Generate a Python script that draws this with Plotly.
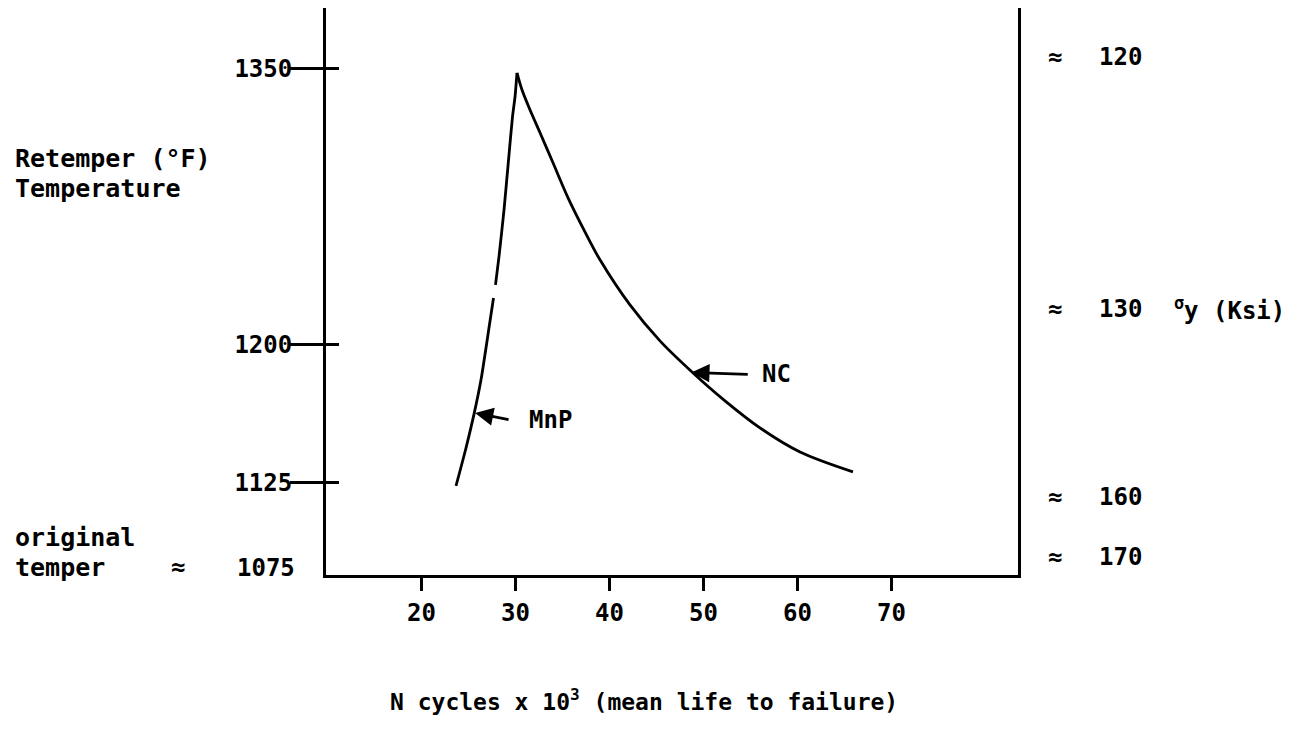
import plotly.graph_objects as go

# ---- data ----
MNP_N = [23.67, 24.68, 25.64, 26.33, 27.23, 27.66, None, 27.87, 28.24, 28.78, 29.26, 29.68, 29.95, 30.16]
MNP_T = [1123.4, 1142.9, 1163.6, 1181.0, 1210.9, 1225.5, None, 1232.6, 1247.8, 1273.4, 1300.5, 1323.9, 1334.8, 1347.8]

NC_N = [30.16, 30.69, 31.54, 32.61, 33.99, 35.59, 37.39, 38.99, 42.18, 45.37, 48.78, 52.29, 56.01, 60.27, 65.90]
NC_T = [1347.8, 1338.6, 1327.7, 1315.2, 1298.9, 1279.9, 1261.4, 1246.2, 1221.7, 1202.2, 1185.3, 1169.6, 1154.9, 1141.8, 1131.0]

X_TICKS = [20, 30, 40, 50, 60, 70]
Y_TICKS = [1125, 1200, 1350]
Y_TICK_LABELS = ["1125", "1200", "1350"]
SIGMA_LABELS = ["120", "130", "160", "170"]

FONT = dict(family="DejaVu Sans Mono", size=24, color="black", weight="bold")
LINE_W = 3

fig = go.Figure()
fig.add_trace(go.Scatter(x=MNP_N, y=MNP_T, mode="lines", connectgaps=False,
                         line=dict(color="black", width=2.8, shape="spline", smoothing=0.6),
                         showlegend=False))
fig.add_trace(go.Scatter(x=NC_N, y=NC_T, mode="lines",
                         line=dict(color="black", width=2.8, shape="spline", smoothing=0.9),
                         showlegend=False))

XR = [9.84, 83.46]
YR = [1075, 1383]

# the page body adds an 8px offset; margins compensate for it
fig.update_layout(
    width=1304, height=733,
    margin=dict(l=318, r=294, t=0, b=166),
    paper_bgcolor="white", plot_bgcolor="white",
    showlegend=False,
    font=FONT,
    xaxis=dict(range=XR, showgrid=False, zeroline=False, showline=True,
               linecolor="black", linewidth=LINE_W, ticks="outside", ticklen=13,
               tickwidth=LINE_W, tickcolor="black", tickvals=X_TICKS,
               tickfont=FONT, ticklabelstandoff=1),
    yaxis=dict(range=YR, showgrid=False, zeroline=False, showline=True,
               linecolor="black", linewidth=LINE_W, ticks="outside", ticklen=33,
               tickwidth=LINE_W, tickcolor="black", tickvals=Y_TICKS,
               ticktext=Y_TICK_LABELS, tickfont=FONT, ticklabelstandoff=-7),
    yaxis2=dict(range=YR, overlaying="y", side="right", anchor="x",
                showgrid=False, zeroline=False, showline=True, linecolor="black",
                linewidth=LINE_W, showticklabels=False, ticks=""),
    yaxis3=dict(range=YR, overlaying="y", side="left", anchor="x",
                showgrid=False, zeroline=False, showline=False, ticks="inside",
                ticklen=13, tickwidth=LINE_W, tickcolor="black",
                tickvals=Y_TICKS, showticklabels=False),
)
# invisible traces to activate the overlay axes
fig.add_trace(go.Scatter(x=[None], y=[None], yaxis="y2", showlegend=False))
fig.add_trace(go.Scatter(x=[None], y=[None], yaxis="y3", showlegend=False))

ann = []
def txt(text, x, y, xanchor="left", xref="paper", yref="paper", yshift=0, size=24):
    f = dict(FONT); f["size"] = size
    ann.append(dict(text=text, x=x, y=y, xref=xref, yref=yref, xanchor=xanchor,
                    yanchor="middle", showarrow=False, font=f, yshift=yshift))

# left labels
txt("Retemper (°F)", -0.452, 0.735, size=25)
txt("Temperature", -0.452, 0.681, size=25)
txt("original", -0.452, 0.067, size=25)
txt("temper", -0.452, 0.014, size=25)
txt("≈", -0.214, 0.014, xanchor="center", size=24)
txt("1075", -0.042, 0.012, xanchor="right")

# right sigma_y labels
sig_y = [0.914, 0.469, 0.138, 0.032]
for lab, yy in zip(SIGMA_LABELS, sig_y):
    txt("≈", 1.053, yy, xanchor="center")
    txt(lab, 1.114, yy)
txt("<sup>σ</sup>y (Ksi)", 1.2225, 0.469)

# curve labels and arrows
txt("MnP", 31.2, 1159, xref="x", yref="y")
txt("NC", 56.0, 1184, xref="x", yref="y")
ann.append(dict(x=25.7, y=1163, xref="x", yref="y", ax=35, ay=7, text="",
                showarrow=True, arrowhead=2, arrowsize=1.3, arrowwidth=2.8,
                arrowcolor="black"))
ann.append(dict(x=48.7, y=1185, xref="x", yref="y", ax=58, ay=2, text="",
                showarrow=True, arrowhead=2, arrowsize=1.3, arrowwidth=2.8,
                arrowcolor="black"))

# x axis title
txt("N cycles x 10<sup>3</sup> (mean life to failure)", 0.46, -0.22,
    xanchor="center", size=23)

fig.update_layout(annotations=ann)
fig.write_html("out.html")
